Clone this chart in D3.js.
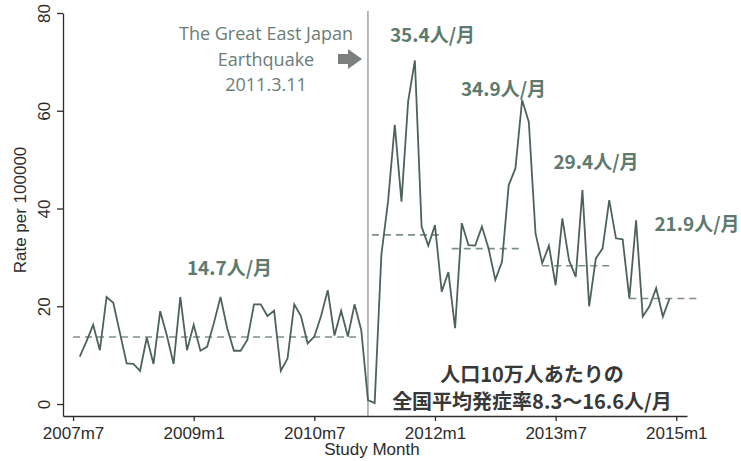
<!DOCTYPE html>
<html>
<head>
<meta charset="utf-8">
<script src="https://cdn.jsdelivr.net/npm/d3@7"></script>
<style>
  body { margin: 0; background: #fff; }
  svg { display: block; }
</style>
</head>
<body>
<script>
// month index 0 = 2007m7, first observation is 2007m8
var startMonth = 1;

// monthly rate per 100000, 2007m8 .. 2014m12
var rates = [
    9.7, 12.8, 16.2, 11.0, 21.9, 20.7, 14.5, 8.3, 8.2, 6.8,
    13.6, 8.2, 19.0, 14.0, 8.2, 21.9, 11.0, 16.2, 10.9, 11.7,
    16.5, 21.9, 15.5, 10.9, 10.9, 13.1, 20.4, 20.4, 18.0, 19.1,
    6.8, 9.3, 20.4, 18.0, 12.4, 13.8, 18.0, 23.3, 14.0, 19.1,
    13.8, 20.4, 15.1, 0.8, 0.2, 30.5, 41.5, 57.1, 41.4, 62.0,
    70.3, 36.3, 32.4, 36.6, 23.0, 27.0, 15.5, 37.0, 32.5, 32.4,
    36.3, 31.8, 25.4, 29.1, 44.8, 48.2, 62.2, 57.7, 34.9, 28.8,
    32.4, 24.3, 38.0, 29.4, 26.0, 43.8, 20.0, 29.8, 31.8, 41.7,
    33.9, 33.7, 21.6, 37.6, 17.9, 20.0, 23.7, 17.9, 21.6
];

var tickMonths = [0, 18, 36, 54, 72, 90];
var tickLabels = ["2007m7", "2009m1", "2010m7", "2012m1", "2013m7", "2015m1"];
var yTicks = [0, 20, 40, 60, 80];

// period means (dashed lines)
var periodStart = [0, 44.6, 56.5, 70, 83];
var periodEnd = [43, 54.8, 66.7, 80.7, 93.3];
var periodMean = [13.7, 34.6, 31.8, 28.3, 21.6];
var periodLabels = ["14.7人/月", "35.4人/月", "34.9人/月", "29.4人/月", "21.9人/月"];

var quakeMonth = 44; // 2011m3
var quakeText = ["The Great East Japan", "Earthquake", "2011.3.11"];
var noteText = ["人口10万人あたりの", "全国平均発症率8.3〜16.6人/月"];

var width = 741, height = 461;
var lineColor = "#4d6359", meanColor = "#7c9088", labelColor = "#5e7a6f", axisColor = "#2c2c2c";

var svg = d3.select("body").append("svg")
    .attr("width", width)
    .attr("height", height);

svg.append("rect").attr("width", width).attr("height", height).attr("fill", "#fff");

// scales
var x = d3.scaleLinear().domain([-1.5, 91.6]).range([63, 687]);
var y = d3.scaleLinear().domain([-2.45, 80]).range([416, 13]);

// axes
var xAxis = svg.append("g")
    .attr("transform", "translate(0," + y(-2.45) + ")")
    .call(d3.axisBottom(x)
        .tickValues(tickMonths)
        .tickFormat(function (d, i) { return tickLabels[i]; })
        .tickSize(5).tickSizeOuter(0).tickPadding(6));
xAxis.selectAll("text")
    .style("font-family", "'Liberation Sans', Arial, sans-serif")
    .style("font-size", "17px")
    .attr("fill", axisColor);

var yAxis = svg.append("g")
    .attr("transform", "translate(" + x(-1.5) + ",0)")
    .call(d3.axisLeft(y)
        .tickValues(yTicks)
        .tickSize(6).tickSizeOuter(0));
yAxis.selectAll(".tick text")
    .attr("x", 0).attr("y", 0).attr("dy", 0)
    .attr("text-anchor", "middle")
    .attr("transform", "translate(-13,0) rotate(-90)")
    .style("font-family", "'Liberation Sans', Arial, sans-serif")
    .style("font-size", "17px")
    .attr("fill", axisColor);

svg.selectAll(".domain, .tick line")
    .attr("stroke", axisColor)
    .attr("stroke-width", 1.3);

// axis titles
svg.append("text")
    .attr("transform", "translate(20,210) rotate(-90)")
    .attr("text-anchor", "middle")
    .attr("dominant-baseline", "central")
    .style("font-family", "'Liberation Sans', Arial, sans-serif")
    .style("font-size", "17px")
    .attr("fill", axisColor)
    .text("Rate per 100000");

svg.append("text")
    .attr("x", 372).attr("y", 455)
    .attr("text-anchor", "middle")
    .style("font-family", "'Liberation Sans', Arial, sans-serif")
    .style("font-size", "17px")
    .attr("fill", axisColor)
    .text("Study Month");

// earthquake line
svg.append("line")
    .attr("x1", x(quakeMonth)).attr("x2", x(quakeMonth))
    .attr("y1", y(80) - 2).attr("y2", y(-2.45))
    .attr("stroke", "#8a8a8a")
    .attr("stroke-width", 1.2);

// period mean lines
svg.selectAll(".mean")
    .data(periodMean)
    .enter().append("line")
    .attr("class", "mean")
    .attr("x1", function (d, i) { return x(periodStart[i]); })
    .attr("x2", function (d, i) { return x(periodEnd[i]); })
    .attr("y1", function (d) { return y(d); })
    .attr("y2", function (d) { return y(d); })
    .attr("stroke", meanColor)
    .attr("stroke-width", 1.6)
    .attr("stroke-dasharray", "7,5");

// rate series
var series = rates.map(function (v, i) { return { m: startMonth + i, v: v }; });
var line = d3.line()
    .x(function (d) { return x(d.m); })
    .y(function (d) { return y(d.v); });

svg.append("path")
    .datum(series)
    .attr("fill", "none")
    .attr("stroke", lineColor)
    .attr("stroke-width", 1.8)
    .attr("stroke-linejoin", "miter")
    .attr("d", line);

// period labels
var labelPos = [[229.5, 266], [432.5, 33], [503.5, 87], [596, 160], [697, 222]];
svg.selectAll(".plabel")
    .data(periodLabels)
    .enter().append("text")
    .attr("class", "plabel")
    .attr("x", function (d, i) { return labelPos[i][0]; })
    .attr("y", function (d, i) { return labelPos[i][1]; })
    .attr("text-anchor", "middle")
    .attr("dominant-baseline", "central")
    .style("font-family", "'Noto Sans CJK JP', sans-serif")
    .style("font-weight", "700")
    .style("font-size", "19px")
    .attr("fill", labelColor)
    .text(function (d) { return d; });

// earthquake annotation
svg.selectAll(".qtext")
    .data(quakeText)
    .enter().append("text")
    .attr("class", "qtext")
    .attr("x", 266)
    .attr("y", function (d, i) { return 33 + i * 25.5; })
    .attr("text-anchor", "middle")
    .attr("dominant-baseline", "central")
    .style("font-family", "'Open Sans', sans-serif")
    .style("font-size", "18px")
    .attr("fill", "#6b7d77")
    .text(function (d) { return d; });

svg.append("path")
    .attr("d", "M338,54 L348,54 L348,49 L362,59 L348,69 L348,64 L338,64 Z")
    .attr("fill", "#7b7f7d");

// national average note
svg.selectAll(".note")
    .data(noteText)
    .enter().append("text")
    .attr("class", "note")
    .attr("x", 532)
    .attr("y", function (d, i) { return 373 + i * 27; })
    .attr("text-anchor", "middle")
    .attr("dominant-baseline", "central")
    .style("font-family", "'Noto Sans CJK JP', sans-serif")
    .style("font-weight", "700")
    .style("font-size", "20px")
    .attr("fill", "#383838")
    .text(function (d) { return d; });
</script>
</body>
</html>
